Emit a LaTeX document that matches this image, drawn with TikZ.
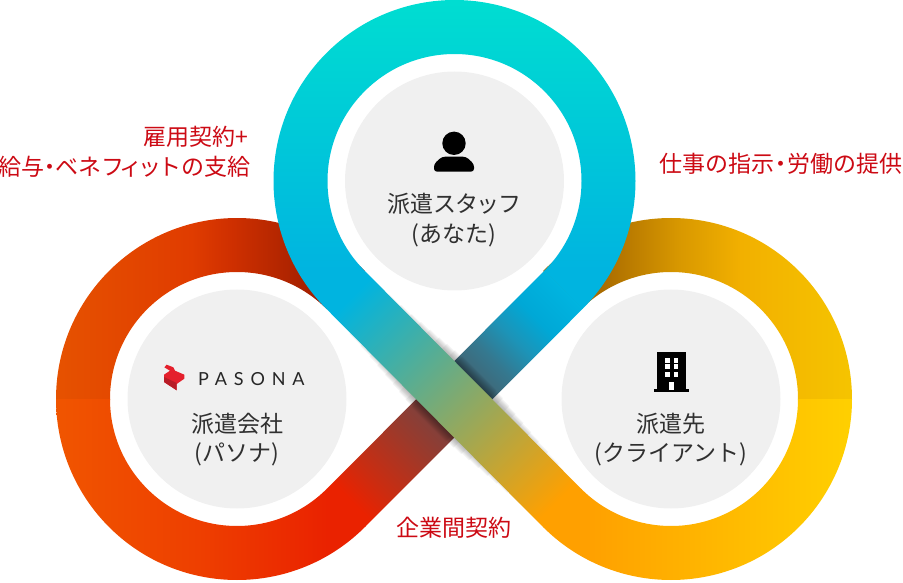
\documentclass[tikz,border=0pt]{standalone}
\usepackage{fontspec}
\setmainfont{Noto Sans CJK JP}
\newfontfamily\logofont[LetterSpace=38]{Lato}

\definecolor{ringblue}{HTML}{00B4E0}
\definecolor{ringteal}{HTML}{00E0D0}
\definecolor{bandorange}{HTML}{FFA000}
\definecolor{bandred}{HTML}{EA2200}
\definecolor{circlegrey}{HTML}{F0F0F0}
\definecolor{labelred}{HTML}{CC0A14}
\definecolor{textdark}{HTML}{303030}
\definecolor{logored}{HTML}{E4202C}
\definecolor{logodark}{HTML}{B81C26}

%left ring colours
\definecolor{lua}{HTML}{E65200}
\definecolor{lub}{HTML}{E03C00}
\definecolor{luc}{HTML}{D03000}
\definecolor{lud}{HTML}{AE2400}
\definecolor{lue}{HTML}{A01C00}
\definecolor{lla}{HTML}{F05500}
\definecolor{llb}{HTML}{EE3F00}
%right ring colours
\definecolor{rua}{HTML}{A86A00}
\definecolor{rub}{HTML}{D89800}
\definecolor{ruc}{HTML}{F2B000}
\definecolor{rud}{HTML}{F5C400}
\definecolor{rlb}{HTML}{FFB400}
\definecolor{rlc}{HTML}{FFD000}
%lower band colours
\definecolor{uba}{HTML}{00A8D6}
\definecolor{ubb}{HTML}{1C94B8}
\definecolor{ubc}{HTML}{35788F}
\definecolor{ubd}{HTML}{3F6878}
\definecolor{ube}{HTML}{44505E}
\definecolor{ubf}{HTML}{744444}
\definecolor{ubg}{HTML}{9A3A2C}
\definecolor{ubh}{HTML}{CC2C10}

\pgfdeclarehorizontalshading{leftupper}{100bp}{color(0bp)=(lua); color(25bp)=(lua); color(47bp)=(lub); color(53bp)=(luc); color(63bp)=(lud); color(68bp)=(lue); color(100bp)=(lue)}
\pgfdeclarehorizontalshading{leftlower}{100bp}{color(0bp)=(lla); color(25bp)=(lla); color(48bp)=(llb); color(69bp)=(bandred); color(100bp)=(bandred)}
\pgfdeclarehorizontalshading{rightupper}{100bp}{color(0bp)=(rua); color(34bp)=(rua); color(47bp)=(rub); color(57bp)=(ruc); color(75bp)=(rud); color(100bp)=(rud)}
\pgfdeclarehorizontalshading{rightlower}{100bp}{color(0bp)=(bandorange); color(32bp)=(bandorange); color(50bp)=(rlb); color(75bp)=(rlc); color(100bp)=(rlc)}
\pgfdeclareverticalshading{topring}{100bp}{color(0bp)=(ringblue); color(31bp)=(ringblue); color(75bp)=(ringteal); color(100bp)=(ringteal)}
\pgfdeclarehorizontalshading{overband}{54pt}{color(0pt)=(ringblue); color(10pt)=(ringblue); color(300pt)=(bandorange); color(309pt)=(bandorange)}
\pgfdeclarehorizontalshading{underband}{54pt}{color(0pt)=(ringblue); color(40pt)=(uba); color(70pt)=(ubb); color(100pt)=(ubc); color(125pt)=(ubd); color(150pt)=(ube); color(170pt)=(ubf); color(215pt)=(ubg); color(270pt)=(ubh); color(300pt)=(bandred); color(309pt)=(bandred)}

\newcommand{\nd}{\kern-5pt・\kern-5pt}

\begin{document}
\begin{tikzpicture}[x=1pt,y=1pt]
\tikzstyle{grey circle}=[circle,fill=circlegrey,inner sep=0pt,minimum size=219pt]
\tikzstyle{caption}=[text=textdark,align=center,font=\fontsize{23}{29.5}\selectfont]
\tikzstyle{red label}=[text=labelred,align=right,inner sep=0pt,font=\fontsize{23}{30}\selectfont]
\tikzstyle{band}=[inner sep=0pt,outer sep=0pt]

\useasboundingbox (0,0) rectangle (903,582);
\coordinate (ctop) at (454.5,401);
\coordinate (cleft) at (237,183);
\coordinate (cright) at (671,183);
\coordinate (cross) at (454.2,183.1);

%left ring, two halves
\path[shading=leftupper] ([shift={(180.5:181)}]cleft) arc[start angle=180.5,end angle=45,radius=181] -- ([shift={(45:127)}]cleft) arc[start angle=45,end angle=180.5,radius=127] -- cycle;
\path[shading=leftlower] ([shift={(315:181)}]cleft) arc[start angle=315,end angle=180,radius=181] -- ([shift={(180:127)}]cleft) arc[start angle=180,end angle=315,radius=127] -- cycle;

%right ring, two halves
\path[shading=rightupper] ([shift={(135:181)}]cright) arc[start angle=135,end angle=-0.5,radius=181] -- ([shift={(-0.5:127)}]cright) arc[start angle=-0.5,end angle=135,radius=127] -- cycle;
\path[shading=rightlower] ([shift={(225:181)}]cright) arc[start angle=225,end angle=360,radius=181] -- ([shift={(0:127)}]cright) arc[start angle=360,end angle=225,radius=127] -- cycle;

%band that goes below
\node[band,rotate=225.07] (under) at (454.65,183.1) {\pgfuseshading{underband}};

%shadow of the upper band
\foreach \w/\l in {56/120,58/104,60/90,62/78,64/66,66/54,68/44,70/34,72/24}
\draw[black,opacity=.045,line width=\w pt] ([shift={(135:\l)}]cross) -- ([shift={(-45:\l)}]cross);

%top ring and the upper band
\path[shading=topring] ([shift={(-45:181)}]ctop) arc[start angle=-45,end angle=225,radius=181] -- ([shift={(225:127)}]ctop) arc[start angle=225,end angle=-45,radius=127] -- cycle;
\node[band,rotate=-45.2] (over) at (453.85,183.1) {\pgfuseshading{overband}};

%grey circles
\node[grey circle] (you) at (ctop) {};
\node[grey circle] (agency) at (cleft) {};
\node[grey circle] (client) at (cright) {};

%person icon
\fill[black] (454,438.7) circle (11.7);
\fill[black,rounded corners=3pt] (434,410.3) -- (474,410.3) -- (474,418) -- (466,425.3) -- (442,425.3) -- (434,418) -- cycle;

%building icon
\fill[black] (656.7,192) rectangle (686,230.3);
\fill[black] (654,190.3) rectangle (689,192.7);
\foreach \x in {665,673.7}
\foreach \y in {219.3,212.7,205.3}
\fill[white] (\x,\y) rectangle ++(4.5,5);
\fill[white] (669,192) rectangle (674,200.3);

%pasona logo
\fill[logored] (164,207.3) -- (164,200) -- (176.7,191.7) -- (176.7,198) -- (184.3,203.3) -- (184.3,207.3) -- (175,211.3) -- (173.3,214.7) -- (166.7,217.3) -- (164.3,214.7) -- (170,211.3) -- cycle;
\fill[logodark] (164,200) -- (176.7,191.7) -- (176.7,199) -- (164,205) -- cycle;
\node[text=black!85,font=\logofont\fontsize{18}{18}\selectfont,anchor=west,inner sep=0pt] (logo) at (198,203) {PASONA};

%captions
\node[caption] (youtext) at (454,362) {派遣ス\kern-1pt タ\kern-2pt ッ\kern-1pt フ\\(あなた)};
\node[caption] (agencytext) at (237,142.5) {派遣会社\\(パソナ)};
\node[caption] (clienttext) at (671,142.5) {派遣先\\(クライアント)};

%red labels
\node[red label,anchor=east] (employ) at (251,430) {雇用契約+\kern3pt\\給与\kern-1pt\nd\kern-1pt ベネフ\kern-5pt ィ\kern-4pt ッ\kern-3pt トの支給};
\node[red label,anchor=east] (work) at (903,418) {仕事の指示\nd 労働の提供};
\node[red label] (contract) at (454,54) {企業間契約};
\end{tikzpicture}
\end{document}
